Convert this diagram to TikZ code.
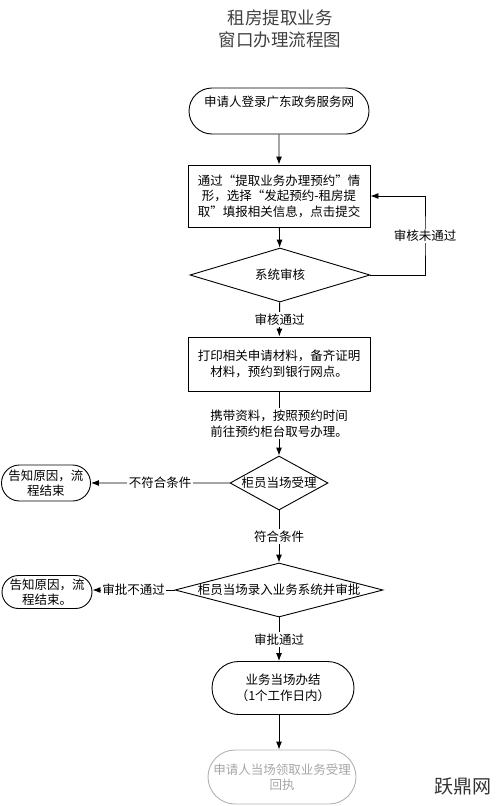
\documentclass[tikz,border=0pt]{standalone}
\usepackage{fontspec}
\setmainfont{Noto Sans CJK SC}
\usetikzlibrary{shapes.geometric, shapes.misc, arrows.meta}

\begin{document}
\begin{tikzpicture}[x=1pt,y=-1pt]
\tikzstyle{every node}+=[inner sep=0pt, align=center, font=\fontsize{12.5pt}{15.5pt}\selectfont]
\tikzstyle{term}=[draw, rounded rectangle, line width=0.9pt]
\tikzstyle{box}=[draw, rectangle, line width=0.9pt]
\tikzstyle{decision}=[draw, diamond, line width=0.9pt]
\tikzstyle{arrow}=[draw, line width=0.9pt, -{Latex[length=8pt,width=6pt]}]
\tikzstyle{cond}=[fill=white, inner sep=1.5pt]
\useasboundingbox (0,0) rectangle (500,806);
\node [font=\fontsize{17.5pt}{22pt}\selectfont, text=black!75] (title) at (280,29) {租房提取业务\\窗口办理流程图};
\node [term, minimum width=180pt, minimum height=46pt] (login) at (279,111) {申请人登录广东政务服务网\\ \strut};
\node [box, minimum width=182pt, minimum height=62pt] (apply) at (279,196) {通过“提取业务办理预约”情\\形，选择“发起预约-租房提\\取”填报相关信息，点击提交};
\node [decision, minimum width=180pt, minimum height=54pt, label=center:{系统审核}] (check) at (280,275) {};
\node [box, minimum width=182pt, minimum height=54pt] (print) at (279,364) {打印相关申请材料，备齐证明\\材料，预约到银行网点。};
\node [decision, minimum width=98pt, minimum height=54pt, label=center:{柜员当场受理}] (accept) at (279,483) {};
\node [term, minimum width=89pt, minimum height=36pt] (stopa) at (46,483) {告知原因，流\\程结束};
\node [decision, minimum width=208pt, minimum height=54pt, label=center:{柜员当场录入业务系统并审批}] (enter) at (279,590) {};
\node [term, minimum width=90pt, minimum height=33pt] (stopb) at (47,592) {告知原因，流\\程结束。};
\node [term, minimum width=142pt, minimum height=53pt] (done) at (283,688) {业务当场办结\\（1个工作日内）};
\node [term, minimum width=148pt, minimum height=54pt, draw=black!30, text=black!35] (receipt) at (282,777) {申请人当场领取业务受理\\回执};
\node [font=\fontsize{19pt}{19pt}\selectfont, text=black!80] (mark) at (463,786) {跃鼎网};
\coordinate (back) at (425,236);
\draw [arrow] (login) -- (apply);
\draw [arrow] (apply) -- (check);
\draw [arrow] (check.east) -| (back) |- (apply.east);
\node [cond] at (back) {审核未通过};
\draw [arrow] (check) -- (print) node [cond, midway] {审核通过};
\draw [arrow] (print) -- (accept) node [cond, midway] {携带资料，按照预约时间\\前往预约柜台取号办理。};
\draw [arrow] (accept) -- (stopa) node [cond, midway] {不符合条件};
\draw [arrow] (accept) -- (enter) node [cond, midway] {符合条件};
\draw [arrow] (enter.west) -- (enter.west -| stopb.east) node [cond, midway] {审批不通过};
\draw [arrow] (enter.south) -- (enter.south |- done.north) node [cond, midway] {审批通过};
\draw [arrow] (done.south -| enter.south) -- (enter.south |- receipt.north);
\end{tikzpicture}
\end{document}
